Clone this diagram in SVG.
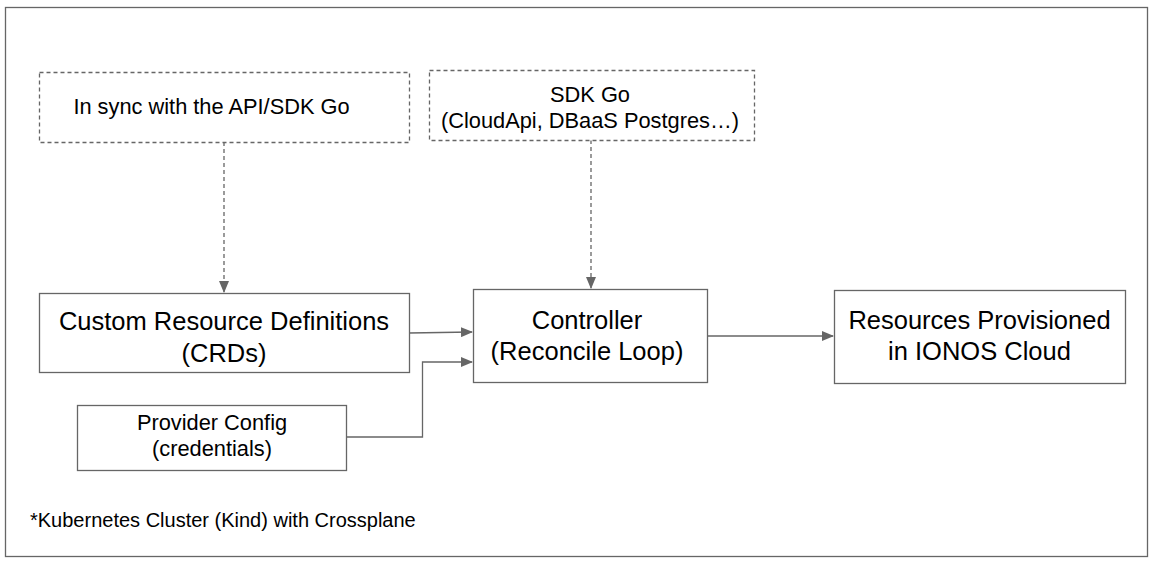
<svg xmlns="http://www.w3.org/2000/svg" width="1154" height="566" viewBox="0 0 1154 566">
<style>
.box{fill:#fff;stroke:#666;stroke-width:1.3}
.dash{fill:#fff;stroke:#666;stroke-width:1.3;stroke-dasharray:4,3}
.t{font-family:"Liberation Sans",Arial,sans-serif;fill:#000;text-anchor:middle}
.s{font-size:21.8px}
.b{font-size:25.5px}
.c{fill:none;stroke:#666;stroke-width:1.3}
.cd{fill:none;stroke:#666;stroke-width:1.3;stroke-dasharray:4,3}
</style>
<defs>
<marker id="ah" markerWidth="12" markerHeight="10" refX="11" refY="5" orient="auto" markerUnits="userSpaceOnUse">
<path d="M0,0 L12,5 L0,10 z" fill="#666"/>
</marker>
</defs>
<rect x="0" y="0" width="1154" height="566" fill="#fff"/>
<rect id="frame" x="5.5" y="7.5" width="1142" height="549" fill="none" stroke="#666" stroke-width="1.3"/>
<g id="connectors">
<path class="cd" d="M224,142 V292" marker-end="url(#ah)"/>
<path class="cd" d="M591,140 V288" marker-end="url(#ah)"/>
<path class="c" d="M409,333 L472,332" marker-end="url(#ah)"/>
<path class="c" d="M346,437 H422.5 V362 H472" marker-end="url(#ah)"/>
<path class="c" d="M707,336 H833" marker-end="url(#ah)"/>
</g>
<g id="sync">
<rect class="dash" x="39.5" y="72.5" width="370" height="70"/>
<text class="t s" x="211.5" y="114">In sync with the API/SDK Go</text>
</g>
<g id="sdk">
<rect class="dash" x="429.5" y="70.5" width="325" height="70"/>
<text class="t s" x="590" y="102">SDK Go</text>
<text class="t s" x="590" y="128">(CloudApi, DBaaS Postgres…)</text>
</g>
<g id="crd">
<rect class="box" x="39.5" y="293.5" width="370" height="79"/>
<text class="t b" x="224" y="330">Custom Resource Definitions</text>
<text class="t b" x="224" y="362">(CRDs)</text>
</g>
<g id="controller">
<rect class="box" x="473.5" y="289.5" width="234" height="93"/>
<text class="t b" x="587" y="329">Controller</text>
<text class="t b" x="587" y="360">(Reconcile Loop)</text>
</g>
<g id="resources">
<rect class="box" x="834.5" y="290.5" width="291" height="93"/>
<text class="t b" x="979.5" y="329">Resources Provisioned</text>
<text class="t b" x="979.5" y="360">in IONOS Cloud</text>
</g>
<g id="provider">
<rect class="box" x="77.5" y="405.5" width="269" height="65"/>
<text class="t s" x="212" y="430">Provider Config</text>
<text class="t s" x="212" y="456">(credentials)</text>
</g>
<text x="30" y="527" font-size="20" font-family="Liberation Sans,Arial,sans-serif" fill="#000">*Kubernetes Cluster (Kind) with Crossplane</text>
</svg>
